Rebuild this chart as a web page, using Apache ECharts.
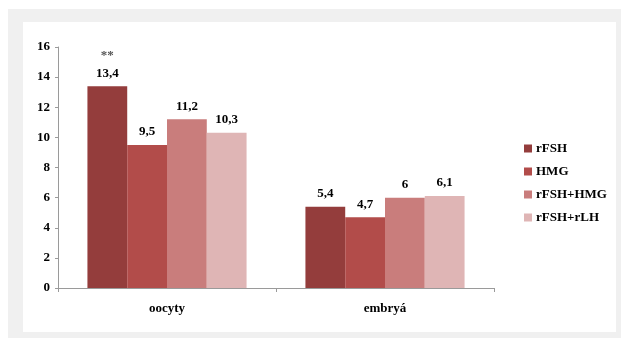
<!DOCTYPE html>
<html><head><meta charset="utf-8">
<script src="https://cdn.jsdelivr.net/npm/echarts@6/dist/echarts.min.js"></script>
<style>html,body{margin:0;padding:0;background:#fff}#c{width:621px;height:338px}</style>
</head><body><div id="c"></div>
<script>
const categories = ['oocyty', 'embryá'];
const seriesNames = ['rFSH', 'HMG', 'rFSH+HMG', 'rFSH+rLH'];
const rFSH = [13.4, 5.4];
const HMG = [9.5, 4.7];
const rFSH_HMG = [11.2, 6];
const rFSH_rLH = [10.3, 6.1];
const yTicks = [0, 2, 4, 6, 8, 10, 12, 14, 16];
const significance = [['**', ''], ['', ''], ['', ''], ['', '']];

const colors = ['#943d3c', '#b24c4a', '#c97d7c', '#dfb5b5'];
const values = [rFSH, HMG, rFSH_HMG, rFSH_rLH];
const font = '"Liberation Serif", "Times New Roman", serif';

const chart = echarts.init(document.getElementById('c'), null, {renderer: 'canvas'});
chart.setOption({
  animation: false,
  graphic: [
    {type: 'rect', z: -10, silent: true, shape: {x: 8, y: 9, width: 613, height: 329}, style: {fill: '#f0f0f0'}},
    {type: 'rect', z: -9, silent: true, shape: {x: 23, y: 22, width: 593, height: 310}, style: {fill: '#ffffff'}}
  ],
  grid: {left: 58, right: 127, top: 47, bottom: 50},
  legend: {
    orient: 'vertical', left: 519, top: 137,
    itemWidth: 8, itemHeight: 8, itemGap: 10, icon: 'rect',
    textStyle: {fontFamily: font, fontWeight: 'bold', fontSize: 13, color: '#000', padding: [0, 0, 0, -1]},
    data: seriesNames
  },
  xAxis: {
    type: 'category', data: categories,
    axisLine: {lineStyle: {color: '#9a9a9a', width: 1}},
    axisTick: {show: true, alignWithLabel: false, length: 4, lineStyle: {color: '#9a9a9a'}},
    axisLabel: {fontFamily: font, fontWeight: 'bold', fontSize: 13, color: '#000', margin: 14}
  },
  yAxis: {
    type: 'value', min: yTicks[0], max: yTicks[yTicks.length - 1], interval: 2,
    axisLine: {show: true, lineStyle: {color: '#9a9a9a', width: 1}},
    axisTick: {show: true, length: 3, lineStyle: {color: '#9a9a9a'}},
    splitLine: {show: false},
    axisLabel: {fontFamily: font, fontWeight: 'bold', fontSize: 13, color: '#000', margin: 8}
  },
  series: values.map((v, si) => ({
    name: seriesNames[si], type: 'bar',
    barGap: '0%', barCategoryGap: '27%',
    itemStyle: {color: colors[si]},
    data: v.map((val, ci) => ({
      value: val,
      label: {
        show: true, position: 'top', distance: 5,
        formatter: (significance[si][ci] ? '{s|' + significance[si][ci] + '}\n' : '') + '{v|' + String(val).replace('.', ',') + '}',
        rich: {
          s: {fontFamily: font, fontWeight: 'bold', fontSize: 13, color: '#555', lineHeight: 20},
          v: {fontFamily: font, fontWeight: 'bold', fontSize: 13, color: '#000', lineHeight: 16}
        }
      }
    }))
  }))
});
</script></body></html>
